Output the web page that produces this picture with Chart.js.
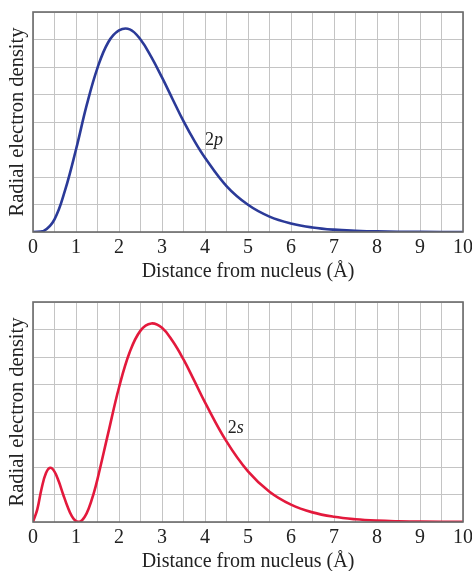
<!DOCTYPE html>
<html>
<head>
<meta charset="utf-8">
<script src="https://cdn.jsdelivr.net/npm/chart.js@4"></script>
<style>
html,body{margin:0;padding:0;background:#fff;overflow:hidden;}
.wrap{position:absolute;left:0;width:472px;height:290px;}
canvas{display:block;}
</style>
</head>
<body>
<div class="wrap" style="top:0"><canvas id="c1" width="472" height="290"></canvas></div>
<div class="wrap" style="top:290px"><canvas id="c2" width="472" height="290"></canvas></div>
<script>
// Distance from nucleus (Å)
const xTop = [0,0.25,0.5,0.75,1,1.25,1.5,1.75,2,2.25,2.5,2.75,3,3.25,3.5,3.75,4,4.5,5,5.5,6,6.5,7,7.5,8,9,10];
// 2p radial electron density (grid units)
const density2p = [0,0.04,0.46,1.54,3.0,4.62,5.97,6.9,7.33,7.37,7.0,6.37,5.62,4.82,4.03,3.32,2.7,1.67,0.99,0.56,0.31,0.165,0.085,0.045,0.022,0.005,0.001];

const xBottom = [0,0.1,0.2,0.3,0.4,0.5,0.6,0.7,0.8,0.9,1.0,1.1,1.2,1.3,1.4,1.5,1.75,2,2.25,2.5,2.75,3,3.25,3.5,3.75,4,4.5,5,5.5,6,6.5,7,7.5,8,8.5,9,10];
// 2s radial electron density (grid units)
const density2s = [0,0.46,1.22,1.77,1.97,1.83,1.47,1.01,0.57,0.22,0.03,0.016,0.18,0.51,0.98,1.56,3.24,4.89,6.18,6.96,7.22,7.06,6.57,5.91,5.14,4.35,2.93,1.84,1.10,0.63,0.35,0.19,0.10,0.05,0.025,0.012,0.003];

const xTickLabels = ['0','1','2','3','4','5','6','7','8','9','10'];
const xTitle = 'Distance from nucleus (Å)';
const yTitle = 'Radial electron density';

const FONT = "'Liberation Serif', 'Times New Roman', serif";

function boxPlugin(label, lx, ly){
  return {
    id:'box',
    afterDraw(chart){
      const {ctx, chartArea:a, scales} = chart;
      ctx.save();
      ctx.strokeStyle = '#6b6b6b';
      ctx.lineWidth = 1.6;
      ctx.strokeRect(a.left, a.top, a.right-a.left, a.bottom-a.top);
      const px = scales.x.getPixelForValue(lx);
      const py = scales.y.getPixelForValue(ly);
      ctx.fillStyle = '#222';
      ctx.textBaseline = 'alphabetic';
      ctx.textAlign = 'left';
      ctx.font = "18px " + FONT;
      ctx.fillText('2', px, py);
      const w = ctx.measureText('2').width;
      ctx.font = "italic 18px " + FONT;
      ctx.fillText(label, px + w, py);
      ctx.restore();
    }
  };
}

function makeChart(id, xs, ys, color, label, lx, ly){
  const pts = xs.map((x,i)=>({x:x, y:ys[i]}));
  return new Chart(document.getElementById(id), {
    type:'line',
    data:{datasets:[{data:pts, borderColor:color, borderWidth:2.6, pointRadius:0, tension:0.4, fill:false}]},
    options:{
      responsive:false, animation:false, devicePixelRatio:1,
      layout:{padding:{top:12, right:9, left:0, bottom:0}},
      plugins:{legend:{display:false}, tooltip:{enabled:false}},
      scales:{
        x:{type:'linear', min:0, max:10,
          afterFit(s){ s.height = 58; s.paddingRight = 0; s.paddingLeft = 0; },
          ticks:{stepSize:0.5, autoSkip:false, maxRotation:0, padding:4, color:'#222',
            font:{family:FONT, size:20},
            callback(v){ return Number.isInteger(v) ? xTickLabels[v] : ''; }},
          grid:{color:'#c4c4c4', lineWidth:1, drawTicks:false},
          border:{display:false},
          title:{display:true, text:xTitle, color:'#222', font:{family:FONT, size:20}, padding:{top:0,bottom:6}}
        },
        y:{min:0, max:8,
          afterFit(s){ s.width = 33; },
          ticks:{stepSize:1, display:false},
          grid:{color:'#c4c4c4', lineWidth:1, drawTicks:false},
          border:{display:false},
          title:{display:true, text:yTitle, color:'#222', font:{family:FONT, size:20.5}, padding:{top:5,bottom:0}}
        }
      }
    },
    plugins:[boxPlugin(label, lx, ly)]
  });
}

makeChart('c1', xTop, density2p, '#2b3a98', 'p', 4.0, 3.17);
makeChart('c2', xBottom, density2s, '#e3193c', 's', 4.53, 3.25);
</script>
</body>
</html>
